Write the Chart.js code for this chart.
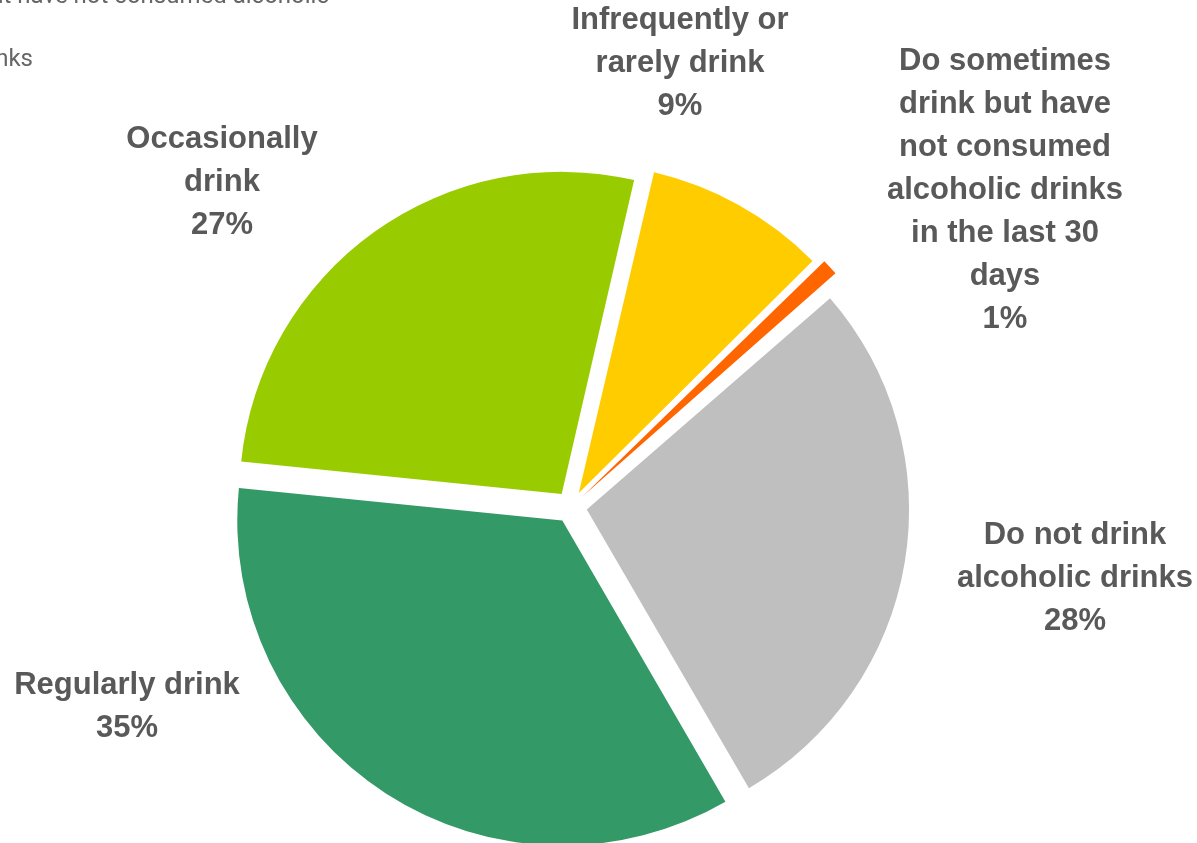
<!DOCTYPE html>
<html>
<head>
<meta charset="utf-8">
<script src="https://cdn.jsdelivr.net/npm/chart.js@4.4.0/dist/chart.umd.min.js"></script>
<style>
  html, body { margin:0; padding:0; background:#fff; }
  #wrap { width:1197px; height:843px; position:relative; }
</style>
</head>
<body>
<div id="wrap"><canvas id="pie" width="1197" height="843"></canvas></div>
<script>
// chart data (clockwise from the yellow slice)
const categories = [
  ['Infrequently or', 'rarely drink'],
  ['Do sometimes', 'drink but have', 'not consumed', 'alcoholic drinks', 'in the last 30', 'days'],
  ['Do not drink', 'alcoholic drinks'],
  ['Regularly drink'],
  ['Occasionally', 'drink']
];
const shares = [9, 1, 28, 35, 27];
const sliceColors = ['#FFCC00', '#FF6600', '#BFBFBF', '#339966', '#99CC00'];

// label block centres, relative to pie centre in units of radius
const labelPos = [[0.3385, -1.3773], [1.3478, -0.9829], [1.5652, 0.2205], [-1.3789, 0.6211], [-1.0839, -1.0078]];

// clipped legend text at top-left (legend sits mostly off the page)
const legendBits = [
  { text: 'Do sometimes drink but have not consumed alcoholic', x: 329, y: 3 },
  { text: 'Do not drink alcoholic drinks', x: 33, y: 66 }
];

const labelPlugin = {
  id: 'sliceLabels',
  afterDatasetsDraw(chart) {
    const ctx = chart.ctx;
    const meta = chart.getDatasetMeta(0);
    const first = meta.data[0];
    const cx = first.x, cy = first.y, r = first.outerRadius;
    const lh = 43;
    ctx.save();
    ctx.fillStyle = '#595959';
    ctx.font = 'bold 31px "Liberation Sans", Arial, sans-serif';
    ctx.textAlign = 'center';
    ctx.textBaseline = 'middle';
    meta.data.forEach((arc, i) => {
      const lines = categories[i].concat([shares[i] + '%']);
      const bx = cx + labelPos[i][0] * r;
      const by = cy + labelPos[i][1] * r;
      const y0 = by - (lines.length - 1) * lh / 2;
      lines.forEach((t, k) => ctx.fillText(t, bx, y0 + k * lh));
    });
    ctx.fillStyle = '#666666';
    ctx.font = '24px Roboto, sans-serif';
    ctx.textAlign = 'right';
    ctx.textBaseline = 'alphabetic';
    legendBits.forEach(b => ctx.fillText(b.text, b.x, b.y));
    ctx.restore();
  }
};

new Chart(document.getElementById('pie'), {
  type: 'pie',
  data: {
    labels: categories.map(c => c.join(' ')),
    datasets: [{
      data: shares,
      backgroundColor: sliceColors,
      borderWidth: 0,
      hoverBorderWidth: 0,
      offset: 64,      // v4 draws offset/4 -> ~16px explode
      hoverOffset: 64
    }]
  },
  options: {
    responsive: false,
    animation: false,
    rotation: 13,
    radius: 322,
    layout: { padding: { left: 200, right: 255, top: 171, bottom: 0 } },
    plugins: { legend: { display: false }, tooltip: { enabled: false } }
  },
  plugins: [labelPlugin]
});
</script>
</body>
</html>
